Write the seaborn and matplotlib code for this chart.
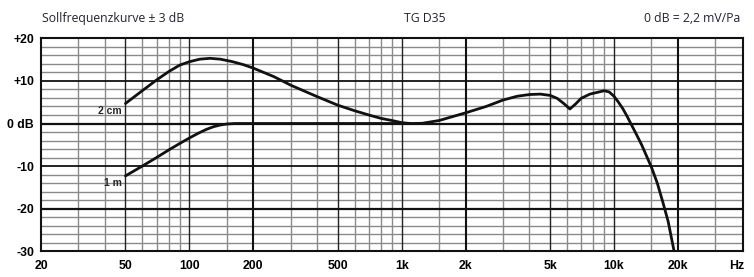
import matplotlib
matplotlib.use("Agg")
import matplotlib.pyplot as plt
import seaborn as sns
import pandas as pd

# ---- data ----
f_2cm = [50, 60, 70, 80, 90, 100, 112, 125, 140, 160, 180, 200, 250, 300, 400, 500,
         600, 700, 800, 900, 1000, 1100, 1250, 1500, 2000, 2500, 3000, 3500, 4000,
         4500, 5000, 5400, 5800, 6200, 6600, 7000, 7700, 8500, 9000, 9500, 10000, 10500,
         11000, 11500, 12000, 12800, 13500, 14200, 15000, 16000, 17000, 18000, 19200]
db_2cm = [4.7, 7.7, 10.2, 12.2, 13.7, 14.5, 15.1, 15.3, 15.1, 14.5, 13.8, 13.0, 11.0, 9.0,
          6.3, 4.3, 3.0, 2.0, 1.2, 0.7, 0.2, 0.0, 0.05, 0.7, 2.5, 4.0, 5.5, 6.4, 6.8,
          6.9, 6.6, 5.9, 4.7, 3.4, 4.6, 5.9, 6.9, 7.4, 7.7, 7.4, 6.4, 5.0,
          3.5, 1.8, 0.0, -2.7, -5.0, -7.5, -10.2, -14.0, -18.5, -23.0, -30.0]

f_1m = [50, 60, 70, 80, 90, 100, 110, 120, 130, 140, 150, 165, 200, 300, 500, 800, 1100]
db_1m = [-12.3, -10.0, -8.0, -6.2, -4.7, -3.4, -2.3, -1.4, -0.75, -0.35, -0.12, 0.0, 0.0,
         0.0, 0.0, 0.0, 0.0]

x_ticks = [20, 50, 100, 200, 500, 1000, 2000, 5000, 10000, 20000, 38000]
x_labels = ["20", "50", "100", "200", "500", "1k", "2k", "5k", "10k", "20k", "Hz"]
y_ticks = [20, 10, 0, -10, -20, -30]
y_labels = ["+20", "+10", "0 dB", "-10", "-20", "-30"]

x_minor_grid = [30, 40, 60, 70, 80, 90, 150, 300, 400, 600, 700, 800, 900, 1500,
                3000, 4000, 6000, 7000, 8000, 9000, 15000, 30000]
x_major_grid = [50, 100, 500, 1000, 5000, 10000]
x_heavy_grid = [200, 2000, 20000]

df = pd.concat([
    pd.DataFrame({"f": f_2cm, "db": db_2cm, "curve": "2 cm"}),
    pd.DataFrame({"f": f_1m, "db": db_1m, "curve": "1 m"}),
])

sns.set_theme(style="white")
plt.rcParams["font.family"] = ["Liberation Sans", "DejaVu Sans"]

fig = plt.figure(figsize=(7.54, 2.77), dpi=100)
ax = fig.add_axes([41/754, 1 - 251.3/277, (742.7 - 41)/754, (251.3 - 38.3)/277])
ax.set_xscale("log")
ax.set_xlim(20, 40400)
ax.set_ylim(-30, 20)

# grid
for v in x_minor_grid:
    ax.axvline(v, color="#8a8a8a", lw=1.0, zorder=1)
for v in x_major_grid:
    ax.axvline(v, color="#222222", lw=1.0, zorder=1.5)
for v in x_heavy_grid:
    ax.axvline(v, color="#111111", lw=1.5, zorder=1.5)
for h in range(-30, 21, 2):
    if h % 10 == 0:
        ax.axhline(h, color="#111111", lw=1.6 if h in (0, -20) else 1.3, zorder=1.5)
    else:
        ax.axhline(h, color="#8a8a8a", lw=1.0, zorder=1)

sns.lineplot(data=df, x="f", y="db", units="curve", estimator=None, sort=False,
             color="#111111", lw=2.0, ax=ax, zorder=3, legend=False)

ax.text(48, 3.0, "2 cm", ha="right", va="center", fontsize=7.5, fontweight="bold", zorder=4)
ax.text(48, -13.9, "1 m", ha="right", va="center", fontsize=7.5, fontweight="bold", zorder=4)

ax.set_xticks(x_ticks)
ax.set_xticklabels(x_labels, fontsize=8.8, fontweight="bold")
ax.xaxis.set_minor_locator(matplotlib.ticker.NullLocator())
ax.set_yticks(y_ticks)
ax.set_yticklabels(y_labels, fontsize=8.8, fontweight="bold")
ax.tick_params(axis="both", length=0, pad=5, colors="#000000")
ax.tick_params(axis="x", pad=6)
ax.set_xlabel("")
ax.set_ylabel("")
for s in ax.spines.values():
    s.set_color("#111111")
    s.set_linewidth(1.5)
    s.set_zorder(5)

hdr = dict(fontsize=8.8, color="#222233", family=["Open Sans", "DejaVu Sans"], va="center")
fig.text(42/754, 1 - 18.5/277, "Sollfrequenzkurve ± 3 dB", ha="left", **hdr)
fig.text(425/754, 1 - 18.5/277, "TG D35", ha="center", **hdr)
fig.text(740/754, 1 - 18.5/277, "0 dB = 2,2 mV/Pa", ha="right", **hdr)

fig.savefig("out.png", dpi=100)
